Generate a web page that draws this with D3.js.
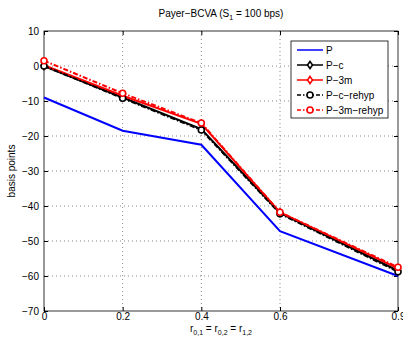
<!DOCTYPE html>
<html>
<head>
<meta charset="utf-8">
<script src="https://cdn.jsdelivr.net/npm/d3@7"></script>
<style>
  body { margin: 0; background: #fff; }
  text { font-family: "Liberation Sans", Arial, sans-serif; font-size: 10px; fill: #000; }
</style>
</head>
<body>
<div id="chart"></div>
<script>
// Data
const xValues = [0, 0.2, 0.4, 0.6, 0.9];
const seriesNames = ["P", "P\u2212c", "P\u22123m", "P\u2212c\u2212rehyp", "P\u22123m\u2212rehyp"];
const pVals = [-9.0, -18.5, -22.5, -47.2, -60.0];
const pcVals = [0.0, -9.0, -18.0, -42.0, -58.5];
const p3mVals = [0.2, -8.5, -16.5, -41.8, -57.8];
const pcRehypVals = [0.0, -9.2, -18.3, -42.2, -58.8];
const p3mRehypVals = [1.5, -7.8, -16.3, -41.8, -57.5];
const xTicks = [0, 0.2, 0.4, 0.6, 0.9];
const yTicks = [10, 0, -10, -20, -30, -40, -50, -60, -70];

const width = 403, height = 341;
const margin = { top: 31, right: 5, bottom: 30, left: 44 };

const svg = d3.select("#chart").append("svg")
    .attr("width", width)
    .attr("height", height);

const x = d3.scaleLinear().domain([0, 0.9]).range([margin.left, width - margin.right]);
const y = d3.scaleLinear().domain([-70, 10]).range([height - margin.bottom, margin.top]);

// Grid lines (dotted)
const grid = svg.append("g").attr("stroke", "#555").attr("stroke-width", 0.7).attr("stroke-dasharray", "1,3");
grid.selectAll(".gx").data(xTicks.slice(1, -1)).enter().append("line")
    .attr("x1", d => x(d)).attr("x2", d => x(d))
    .attr("y1", y(10)).attr("y2", y(-70));
grid.selectAll(".gy").data(yTicks.slice(1, -1)).enter().append("line")
    .attr("x1", x(0)).attr("x2", x(0.9))
    .attr("y1", d => y(d)).attr("y2", d => y(d));

// Axes with inward ticks
const fmt = d => d3.format("")(d).replace("-", "\u2212");
svg.append("g")
    .attr("transform", `translate(0,${y(-70)})`)
    .call(d3.axisBottom(x).tickValues(xTicks).tickSize(-4).tickPadding(2).tickFormat(d => d))
    .call(g => g.select(".domain").remove());
svg.append("g")
    .attr("transform", `translate(0,${y(10)})`)
    .call(d3.axisTop(x).tickValues(xTicks).tickSize(-4).tickFormat(""))
    .call(g => g.select(".domain").remove());
svg.append("g")
    .attr("transform", `translate(${x(0)},0)`)
    .call(d3.axisLeft(y).tickValues(yTicks).tickSize(-4).tickPadding(5).tickFormat(fmt))
    .call(g => g.select(".domain").remove());
svg.append("g")
    .attr("transform", `translate(${x(0.9)},0)`)
    .call(d3.axisRight(y).tickValues(yTicks).tickSize(-4).tickFormat(""))
    .call(g => g.select(".domain").remove());
svg.selectAll(".tick text").style("font-family", "Liberation Sans, Arial, sans-serif").style("font-size", "10px");

// Box
svg.append("rect")
    .attr("x", x(0)).attr("y", y(10))
    .attr("width", x(0.9) - x(0)).attr("height", y(-70) - y(10))
    .attr("fill", "none").attr("stroke", "#000").attr("stroke-width", 0.8);

// Series definitions
const series = [
  { name: seriesNames[0], values: pVals, color: "#0000ff", dash: null, marker: null },
  { name: seriesNames[1], values: pcVals, color: "#000", dash: null, marker: "diamond" },
  { name: seriesNames[2], values: p3mVals, color: "#ff0000", dash: null, marker: "diamond" },
  { name: seriesNames[3], values: pcRehypVals, color: "#000", dash: "5,2,1.5,2", marker: "circle" },
  { name: seriesNames[4], values: p3mRehypVals, color: "#ff0000", dash: "5,2,1.5,2", marker: "circle" }
];

const line = d3.line().x((d, i) => x(xValues[i])).y(d => y(d));

function drawMarker(g, type, cx, cy, color) {
  if (type === "diamond") {
    g.append("path")
      .attr("d", `M${cx},${cy - 3.5}L${cx + 2.5},${cy}L${cx},${cy + 3.5}L${cx - 2.5},${cy}Z`)
      .attr("fill", "#fff").attr("stroke", color).attr("stroke-width", 1.6);
  } else if (type === "circle") {
    g.append("circle").attr("cx", cx).attr("cy", cy).attr("r", 3)
      .attr("fill", "#fff").attr("stroke", color).attr("stroke-width", 1.6);
  }
}

const plot = svg.append("g");
series.forEach(s => {
  plot.append("path")
    .datum(s.values)
    .attr("d", line)
    .attr("fill", "none")
    .attr("stroke", s.color)
    .attr("stroke-width", 2)
    .attr("stroke-dasharray", s.dash);
});
series.forEach(s => {
  if (!s.marker) return;
  s.values.forEach((v, i) => drawMarker(plot, s.marker, x(xValues[i]), y(v), s.color));
});

// Legend
const legend = svg.append("g");
legend.append("rect")
    .attr("x", 291).attr("y", 41).attr("width", 97).attr("height", 77)
    .attr("fill", "#fff").attr("stroke", "#000").attr("stroke-width", 0.8);
series.forEach((s, i) => {
  const ly = 50 + i * 15;
  legend.append("line")
    .attr("x1", 297).attr("x2", 323).attr("y1", ly).attr("y2", ly)
    .attr("stroke", s.color).attr("stroke-width", 1.5)
    .attr("stroke-dasharray", s.dash ? "4,2,1.5,2" : null);
  drawMarker(legend, s.marker, 310, ly, s.color);
  legend.append("text").attr("x", 326).attr("y", ly + 4).text(s.name);
});

// Title
const title = svg.append("text")
    .attr("x", 221).attr("y", 17).attr("text-anchor", "middle");
title.append("tspan").text("Payer\u2212BCVA (S");
title.append("tspan").attr("dy", 3).style("font-size", "7px").text("1");
title.append("tspan").attr("dy", -3).text(" = 100 bps)");

// Y label
svg.append("text")
    .attr("transform", `translate(15,${(y(10) + y(-70)) / 2}) rotate(-90)`)
    .attr("text-anchor", "middle")
    .text("basis points");

// X label
const xl = svg.append("text").attr("x", 221).attr("y", 332).attr("text-anchor", "middle");
xl.append("tspan").text("r");
xl.append("tspan").attr("dy", 3).style("font-size", "7px").text("0,1");
xl.append("tspan").attr("dy", -3).text(" = r");
xl.append("tspan").attr("dy", 3).style("font-size", "7px").text("0,2");
xl.append("tspan").attr("dy", -3).text(" = r");
xl.append("tspan").attr("dy", 3).style("font-size", "7px").text("1,2");
</script>
</body>
</html>
